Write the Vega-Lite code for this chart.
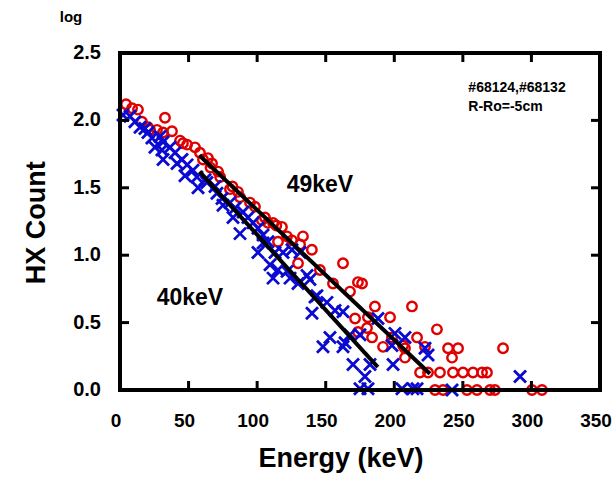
{
  "$schema": "https://vega.github.io/schema/vega-lite/v6.json",
  "width": 480,
  "height": 337,
  "autosize": "none",
  "padding": {"left": 120, "top": 53, "right": 13, "bottom": 89},
  "background": "white",
  "config": {"view": {"stroke": "black", "strokeWidth": 4}, "font": "Liberation Sans"},
  "datasets": {
    "box": [{"E":0,"L":0,"E2":350,"L2":2.5}],
    "edges": [
      {"E":0,"L":0,"E2":350,"L2":0},{"E":350,"L":0,"E2":350,"L2":2.5},{"E":0,"L":2.5,"E2":350,"L2":2.5},{"E":0,"L":0,"E2":0,"L2":2.5}
    ],
    "xticks": [{"v":50},{"v":100},{"v":150},{"v":200},{"v":250},{"v":300}],
    "yticks": [{"v":0.5},{"v":1.0},{"v":1.5},{"v":2.0}],
    "xlabels": [{"E":0},{"E":50},{"E":100},{"E":150},{"E":200},{"E":250},{"E":300},{"E":350}],
    "ylabels": [{"L":0},{"L":0.5},{"L":1.0},{"L":1.5},{"L":2.0},{"L":2.5}],
    "titles": [
      {"E":161.2,"L":-0.51,"t":"Energy (keV)","a":0},
      {"E":-60.5,"L":1.24,"t":"HX Count","a":270}
    ],
    "logt": [{"E":-35.7,"L":2.767,"t":"log"}],
    "red": [
      {"E":4.4,"L":2.12},{"E":8.8,"L":2.09},{"E":13.1,"L":2.08},{"E":16.0,"L":1.99},{"E":20.4,"L":1.95},{"E":21.9,"L":1.93},{"E":27.0,"L":1.93},{"E":32.8,"L":2.02},{"E":31.4,"L":1.91},{"E":37.9,"L":1.92},
      {"E":43.8,"L":1.85},{"E":45.9,"L":1.83},{"E":48.9,"L":1.82},{"E":54.7,"L":1.80},{"E":58.3,"L":1.76},{"E":64.2,"L":1.72},{"E":67.1,"L":1.68},{"E":60.5,"L":1.71},{"E":66.0,"L":1.65},{"E":71.5,"L":1.62},
      {"E":73.0,"L":1.58},{"E":80.2,"L":1.49},{"E":82.0,"L":1.51},{"E":86.0,"L":1.47},{"E":87.5,"L":1.43},{"E":94.8,"L":1.39},{"E":98.4,"L":1.36},{"E":103.5,"L":1.26},{"E":105.7,"L":1.28},{"E":107.9,"L":1.24},
      {"E":111.6,"L":1.24},{"E":114.0,"L":1.22},{"E":118.1,"L":1.21},{"E":121.8,"L":1.14},{"E":115.2,"L":1.10},{"E":125.4,"L":1.11},{"E":131.3,"L":1.08},{"E":133.4,"L":1.14},{"E":139.9,"L":1.04},{"E":129.8,"L":0.94},
      {"E":145.8,"L":0.89},{"E":162.6,"L":0.94},{"E":155.3,"L":0.79},{"E":167.7,"L":0.73},{"E":173.5,"L":0.80},{"E":176.5,"L":0.79},{"E":185.9,"L":0.62},{"E":212.9,"L":0.62},{"E":171.4,"L":0.53},{"E":180.8,"L":0.54},
      {"E":196.9,"L":0.54},{"E":180.1,"L":0.46},{"E":173.5,"L":0.43},{"E":183.8,"L":0.39},{"E":198.3,"L":0.39},{"E":216.6,"L":0.39},{"E":231.1,"L":0.45},{"E":191.8,"L":0.32},{"E":206.4,"L":0.33},{"E":222.4,"L":0.32},
      {"E":207.8,"L":0.31},{"E":207.8,"L":0.24},{"E":239.2,"L":0.31},{"E":246.5,"L":0.31},{"E":242.1,"L":0.24},{"E":279.3,"L":0.31},{"E":218.8,"L":0.13},{"E":224.6,"L":0.13},{"E":233.3,"L":0.13},{"E":242.8,"L":0.13},
      {"E":250.1,"L":0.13},{"E":257.4,"L":0.13},{"E":264.0,"L":0.13},{"E":267.6,"L":0.13},{"E":229.7,"L":0},{"E":235.5,"L":0},{"E":253.0,"L":0},{"E":260.3,"L":0},{"E":269.8,"L":0},{"E":273.4,"L":0},
      {"E":300.4,"L":0},{"E":307.7,"L":0}
    ],
    "blue": [
      {"E":2.2,"L":2.04},{"E":7.3,"L":2.03},{"E":10.9,"L":1.99},{"E":14.6,"L":1.95},{"E":18.2,"L":1.94},{"E":20.4,"L":1.91},{"E":23.3,"L":1.87},{"E":29.2,"L":1.88},{"E":31.4,"L":1.84},{"E":25.5,"L":1.80},
      {"E":30.6,"L":1.78},{"E":36.5,"L":1.80},{"E":40.1,"L":1.76},{"E":31.4,"L":1.71},{"E":45.2,"L":1.71},{"E":41.6,"L":1.68},{"E":48.9,"L":1.67},{"E":53.2,"L":1.63},{"E":47.4,"L":1.59},{"E":56.1,"L":1.58},
      {"E":62.0,"L":1.56},{"E":56.9,"L":1.50},{"E":63.4,"L":1.54},{"E":69.3,"L":1.51},{"E":70.7,"L":1.46},{"E":74.4,"L":1.42},{"E":75.1,"L":1.37},{"E":80.2,"L":1.39},{"E":83.9,"L":1.35},{"E":82.4,"L":1.28},
      {"E":89.7,"L":1.32},{"E":93.3,"L":1.28},{"E":97.0,"L":1.24},{"E":100.6,"L":1.20},{"E":87.5,"L":1.16},{"E":104.3,"L":1.15},{"E":104.3,"L":1.09},{"E":100.6,"L":1.02},{"E":107.9,"L":1.10},{"E":113.0,"L":1.02},
      {"E":118.9,"L":1.02},{"E":125.4,"L":1.04},{"E":131.3,"L":1.02},{"E":109.4,"L":0.93},{"E":115.2,"L":0.89},{"E":121.8,"L":0.88},{"E":111.6,"L":0.83},{"E":124.0,"L":0.83},{"E":129.8,"L":0.79},{"E":136.4,"L":0.85},
      {"E":138.5,"L":0.82},{"E":142.2,"L":0.69},{"E":140.0,"L":0.57},{"E":143.6,"L":0.70},{"E":150.9,"L":0.65},{"E":156.8,"L":0.59},{"E":162.6,"L":0.58},{"E":153.1,"L":0.39},{"E":148.0,"L":0.32},{"E":162.6,"L":0.32},
      {"E":167.7,"L":0.41},{"E":175.0,"L":0.41},{"E":164.1,"L":0.35},{"E":188.1,"L":0.53},{"E":200.5,"L":0.42},{"E":207.8,"L":0.39},{"E":198.3,"L":0.33},{"E":222.4,"L":0.31},{"E":169.9,"L":0.19},{"E":182.3,"L":0.19},
      {"E":178.6,"L":0.10},{"E":199.1,"L":0.19},{"E":224.6,"L":0.26},{"E":175.0,"L":0.01},{"E":180.8,"L":0.01},{"E":205.6,"L":0.01},{"E":213.6,"L":0.01},{"E":216.6,"L":0.01},{"E":242.1,"L":0},{"E":291.7,"L":0.10}
    ],
    "fits": [
      {"fit":"49keV","E":58,"L":1.74,"E2":226,"L2":0.12},
      {"fit":"40keV","E":58,"L":1.62,"E2":188,"L2":0.17}
    ],
    "big": [
      {"E":145.8,"L":1.52,"t":"49keV"},{"E":51,"L":0.68,"t":"40keV"}
    ],
    "small": [
      {"E":254,"L":2.24,"t":"#68124,#68132"},{"E":254,"L":2.10,"t":"R-Ro=-5cm"}
    ]
  },
  "layer": [
    {
      "data": {"name": "box"},
      "mark": {"type": "rect", "filled": false, "fill": null, "stroke": "black", "strokeWidth": 4, "clip": false},
      "encoding": {
        "x": {"field": "E", "type": "quantitative", "scale": {"domain": [0, 350], "nice": false, "zero": false}, "axis": null},
        "x2": {"field": "E2"},
        "y": {"field": "L", "type": "quantitative", "scale": {"domain": [0, 2.5], "nice": false, "zero": false}, "axis": null},
        "y2": {"field": "L2"}
      }
    },
    {
      "data": {"name": "red"},
      "mark": {"type": "point", "shape": "circle", "filled": false, "stroke": "#e00000", "strokeWidth": 2.4, "size": 90, "opacity": 1, "clip": false},
      "encoding": {
        "x": {"field": "E", "type": "quantitative", "axis": null},
        "y": {"field": "L", "type": "quantitative", "axis": null}
      }
    },
    {
      "data": {"name": "blue"},
      "mark": {"type": "point", "shape": "M-1,-1L1,1M-1,1L1,-1", "filled": false, "stroke": "#0a0ad2", "strokeWidth": 2.8, "size": 144, "opacity": 1, "clip": false},
      "encoding": {
        "x": {"field": "E", "type": "quantitative", "axis": null},
        "y": {"field": "L", "type": "quantitative", "axis": null}
      }
    },
    {
      "data": {"name": "edges"},
      "mark": {"type": "rule", "color": "black", "strokeWidth": 4, "strokeCap": "square", "clip": false},
      "encoding": {
        "x": {"field": "E", "type": "quantitative", "axis": null},
        "y": {"field": "L", "type": "quantitative", "axis": null},
        "x2": {"field": "E2"},
        "y2": {"field": "L2"}
      }
    },
    {
      "data": {"name": "xticks"},
      "layer": [
        {"mark": {"type": "rule", "color": "black", "strokeWidth": 3, "y2Offset": -9},
         "encoding": {"x": {"field": "v", "type": "quantitative", "axis": null}, "y": {"datum": 0, "type": "quantitative", "axis": null}, "y2": {"datum": 0}}},
        {"mark": {"type": "rule", "color": "black", "strokeWidth": 3, "y2Offset": 9},
         "encoding": {"x": {"field": "v", "type": "quantitative", "axis": null}, "y": {"datum": 2.5, "type": "quantitative", "axis": null}, "y2": {"datum": 2.5}}}
      ]
    },
    {
      "data": {"name": "yticks"},
      "layer": [
        {"mark": {"type": "rule", "color": "black", "strokeWidth": 3, "x2Offset": 9},
         "encoding": {"y": {"field": "v", "type": "quantitative", "axis": null}, "x": {"datum": 0, "type": "quantitative", "axis": null}, "x2": {"datum": 0}}},
        {"mark": {"type": "rule", "color": "black", "strokeWidth": 3, "x2Offset": -9},
         "encoding": {"y": {"field": "v", "type": "quantitative", "axis": null}, "x": {"datum": 350, "type": "quantitative", "axis": null}, "x2": {"datum": 350}}}
      ]
    },
    {
      "data": {"name": "fits"},
      "mark": {"type": "rule", "color": "black", "strokeWidth": 4},
      "encoding": {
        "x": {"field": "E", "type": "quantitative", "axis": null},
        "y": {"field": "L", "type": "quantitative", "axis": null},
        "x2": {"field": "E2"},
        "y2": {"field": "L2"}
      }
    },
    {
      "data": {"name": "xlabels"},
      "mark": {"type": "text", "font": "Liberation Sans", "fontWeight": "bold", "fontSize": 19, "color": "black", "align": "center", "baseline": "top", "dy": 22, "dx": -4, "clip": false},
      "encoding": {
        "x": {"field": "E", "type": "quantitative", "axis": null},
        "y": {"datum": 0, "type": "quantitative", "axis": null},
        "text": {"field": "E", "type": "quantitative", "format": "d"}
      }
    },
    {
      "data": {"name": "ylabels"},
      "mark": {"type": "text", "font": "Liberation Sans", "fontWeight": "bold", "fontSize": 20, "color": "black", "align": "right", "baseline": "middle", "dx": -19, "clip": false},
      "encoding": {
        "x": {"datum": 0, "type": "quantitative", "axis": null},
        "y": {"field": "L", "type": "quantitative", "axis": null},
        "text": {"field": "L", "type": "quantitative", "format": ".1f"}
      }
    },
    {
      "data": {"name": "titles"},
      "mark": {"type": "text", "font": "Liberation Sans", "fontWeight": "bold", "fontSize": 27, "color": "black", "align": "center", "baseline": "middle", "clip": false},
      "encoding": {
        "x": {"field": "E", "type": "quantitative", "axis": null},
        "y": {"field": "L", "type": "quantitative", "axis": null},
        "angle": {"field": "a", "type": "quantitative", "scale": null},
        "text": {"field": "t"}
      }
    },
    {
      "data": {"name": "logt"},
      "mark": {"type": "text", "font": "Liberation Sans", "fontWeight": "bold", "fontSize": 15, "color": "black", "align": "center", "baseline": "middle", "clip": false},
      "encoding": {
        "x": {"field": "E", "type": "quantitative", "axis": null},
        "y": {"field": "L", "type": "quantitative", "axis": null},
        "text": {"field": "t"}
      }
    },
    {
      "data": {"name": "big"},
      "mark": {"type": "text", "font": "Liberation Sans", "fontWeight": "bold", "fontSize": 23, "color": "black", "align": "center", "baseline": "middle"},
      "encoding": {
        "x": {"field": "E", "type": "quantitative", "axis": null},
        "y": {"field": "L", "type": "quantitative", "axis": null},
        "text": {"field": "t"}
      }
    },
    {
      "data": {"name": "small"},
      "mark": {"type": "text", "font": "Liberation Sans", "fontWeight": "bold", "fontSize": 14, "color": "black", "align": "left", "baseline": "middle"},
      "encoding": {
        "x": {"field": "E", "type": "quantitative", "axis": null},
        "y": {"field": "L", "type": "quantitative", "axis": null},
        "text": {"field": "t"}
      }
    }
  ]
}
